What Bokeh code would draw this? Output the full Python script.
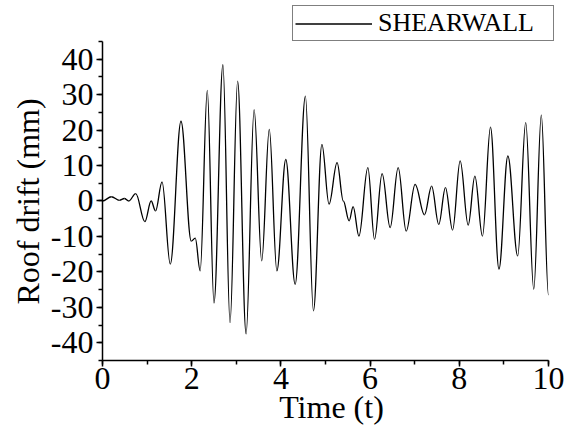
from bokeh.plotting import figure
from bokeh.models import (Range1d, SingleIntervalTicker, Legend, LegendItem,
                          PrintfTickFormatter, ColumnDataSource)
from bokeh.embed import file_html
from bokeh.resources import INLINE

# Roof drift time history (extrema)
time_s = [0, 0.2, 0.38, 0.49, 0.59, 0.745, 0.95, 1.09, 1.19, 1.335,
          1.52, 1.76, 1.99, 2.08, 2.19, 2.35, 2.50, 2.70, 2.86, 3.03,
          3.22, 3.40, 3.57, 3.74, 3.91, 4.11, 4.32, 4.55, 4.73, 4.92,
          5.08, 5.26, 5.40, 5.53, 5.62, 5.75, 5.95, 6.10, 6.27, 6.45, 6.63,
          6.81, 7.01, 7.22, 7.38, 7.54, 7.69, 7.85, 8.02, 8.20, 8.35,
          8.52, 8.70, 8.89, 9.09, 9.31, 9.49, 9.67, 9.84, 10.0]
drift_mm = [0, 1.2, 0.2, 0.7, 0, 2.1, -5.8, 0, -2.8, 5.4,
            -17.8, 22.5, -11.3, -10.5, -19.7, 31.2, -28.8, 38.5, -34.3, 33.8,
            -37.5, 25.8, -16.9, 20.2, -19.7, 11.7, -23.5, 29.6, -31.0, 16.0,
            -0.9, 10.8, 0.0, -5.6, -1.6, -9.9, 9.4, -10.8, 7.7, -7.5, 9.4,
            -8.5, 4.7, -3.9, 4.2, -6.6, 3.8, -8.2, 11.3, -6.8, 7.0,
            -9.9, 20.8, -19.2, 12.7, -15.5, 22.1, -24.9, 24.2, -26.5]
series_name = "SHEARWALL"

FONT = "Liberation Serif"

# smooth (spline-like) connection between successive read extrema,
# horizontal tangents at every extremum
K = 0.363
x0 = time_s[:-1]
y0 = drift_mm[:-1]
x1 = time_s[1:]
y1 = drift_mm[1:]
cx0 = [a + K * (b - a) for a, b in zip(x0, x1)]
cx1 = [b - K * (b - a) for a, b in zip(x0, x1)]
src = ColumnDataSource(dict(x0=x0, y0=y0, x1=x1, y1=y1,
                            cx0=cx0, cy0=y0, cx1=cx1, cy1=y1))

# frame is taller/wider than the axes so the legend (above the axes) is not clipped
p = figure(width=569, height=435, output_backend="svg", toolbar_location=None,
           x_range=Range1d(0, 10.27), y_range=Range1d(-45, 56.0),
           min_border_left=102, min_border_right=9, min_border_top=2,
           min_border_bottom=75)
p.outline_line_color = None
p.xgrid.visible = False
p.ygrid.visible = False
p.background_fill_color = "white"
p.border_fill_color = "white"

r = p.bezier(x0="x0", y0="y0", x1="x1", y1="y1", cx0="cx0", cy0="cy0",
             cx1="cx1", cy1="cy1", source=src, line_color="black",
             line_width=1.3)

p.xaxis.ticker = SingleIntervalTicker(interval=2, num_minor_ticks=2)
p.yaxis.ticker = SingleIntervalTicker(interval=10, num_minor_ticks=2)
p.yaxis.formatter = PrintfTickFormatter(format="%d")
p.xaxis.bounds = (0, 10)
p.yaxis.bounds = (-45, 45)

for ax in (p.xaxis[0], p.yaxis[0]):
    ax.axis_line_width = 1.5
    ax.major_tick_line_width = 1.5
    ax.minor_tick_line_width = 1.5
    ax.major_tick_in = 0
    ax.major_tick_out = 6
    ax.minor_tick_in = 0
    ax.minor_tick_out = 4
    ax.major_label_text_font = FONT
    ax.major_label_text_font_size = "32px"
    ax.major_label_text_color = "black"
    ax.axis_label_text_font = FONT
    ax.axis_label_text_font_size = "32px"
    ax.axis_label_text_font_style = "normal"
    ax.axis_label_text_color = "black"

p.xaxis.axis_label = "Time (t)"
# trailing no-break spaces centre the title on the axes rather than the taller frame
p.yaxis.axis_label = "Roof drift (mm)" + "\u00a0" * 5
p.xaxis.major_label_standoff = 1
p.xaxis.axis_label_standoff = -3
p.yaxis.major_label_standoff = 3
p.yaxis.axis_label_standoff = 2

legend = Legend(items=[LegendItem(label=series_name, renderers=[r])],
                location=(190, 319),
                label_text_font=FONT, label_text_font_size="26px",
                label_text_color="black",
                label_standoff=6, glyph_width=77, glyph_height=27,
                label_height=27, label_width=173, padding=2, spacing=0,
                margin=0, border_line_color="black", border_line_width=1,
                background_fill_color="white", background_fill_alpha=1)
p.add_layout(legend, "center")

open("out.html", "w").write(file_html(p, INLINE))
